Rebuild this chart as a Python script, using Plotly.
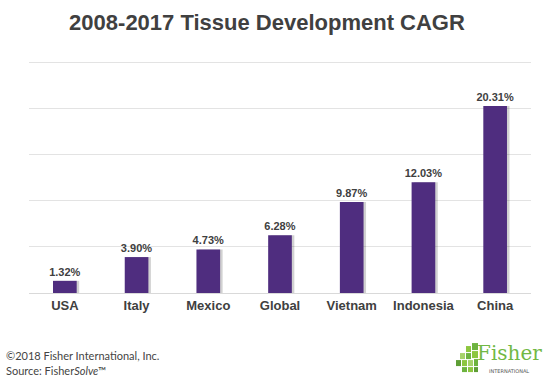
import plotly.graph_objects as go

categories = ["USA", "Italy", "Mexico", "Global", "Vietnam", "Indonesia", "China"]
cagr = [1.32, 3.90, 4.73, 6.28, 9.87, 12.03, 20.31]

title_text = "2008-2017 Tissue Development CAGR"
footer_line1 = "©2018 Fisher International, Inc."
footer_line2 = "Source: Fisher<i>Solve</i>™"

PURPLE = "#4F2D7F"
DARK = "#404040"
W = 0.33
YMAX = 25.3
TOP = 293 - 230 * YMAX / 25  # pixel top of plot area
PH = 293 - TOP

fig = go.Figure()
# soft shadow
fig.add_trace(go.Bar(
    x=categories, y=cagr, width=W, offset=-W / 2 + 0.035,
    marker=dict(color="rgba(0,0,0,0.18)", line=dict(width=0)),
    hoverinfo="skip", showlegend=False,
))
fig.add_trace(go.Bar(
    x=categories, y=cagr, width=W, offset=-W / 2,
    marker=dict(color=PURPLE, line=dict(width=0)),
    text=[f"<b>{v:.2f}%</b>" for v in cagr], textposition="outside",
    constraintext="none",
    textfont=dict(family="Liberation Sans, Arial", size=11, color=DARK),
    cliponaxis=False, showlegend=False,
))

fig.update_layout(
    width=550, height=381,
    margin=dict(l=29, r=19, t=TOP, b=88),
    paper_bgcolor="white", plot_bgcolor="white",
    barmode="overlay",
    title=dict(text=f"<b>{title_text}</b>", x=267 / 550, xanchor="center", y=1 - 22 / 381, yanchor="middle",
               font=dict(family="Liberation Sans, Arial", size=22, color=DARK)),
    xaxis=dict(showgrid=False, showline=False, zeroline=False, ticks="",
               tickfont=dict(family="Liberation Sans, Arial", size=13, color=DARK),
               ticklabelstandoff=3, tickprefix="<b>", ticksuffix="</b>"),
    yaxis=dict(range=[0, YMAX], dtick=5, showgrid=True, gridcolor="#e3e3e3", gridwidth=1,
               zeroline=True, zerolinecolor="#d9d9d9", zerolinewidth=1,
               showticklabels=False, ticks=""),
    font=dict(family="Liberation Sans, Arial"),
)

def py(yp):
    return (293 - yp) / PH

fig.add_annotation(text=footer_line1, xref="paper", yref="paper", x=-0.05, y=py(355),
                   xanchor="left", yanchor="middle", showarrow=False,
                   font=dict(family="Lato, Open Sans", size=11, color="#444444"))
fig.add_annotation(text=footer_line2, xref="paper", yref="paper", x=-0.05, y=py(370),
                   xanchor="left", yanchor="middle", showarrow=False,
                   font=dict(family="Lato, Open Sans", size=11, color="#444444"))

# Logo: green squares + Fisher wordmark
greens = ["#8DC63F", "#6DB33F", "#A6D26A", "#5E9E35"]
squares = [
    (466, 346, 471, 352, 0), (472, 343, 478, 350, 1),
    (460, 353, 465, 359, 2), (466, 353, 471, 359, 1), (472, 351, 478, 358, 0),
    (456, 360, 461, 366, 3), (462, 360, 467, 366, 0), (468, 360, 473, 366, 2), (474, 359, 478, 366, 1),
    (462, 367, 467, 372, 1), (468, 367, 473, 372, 0), (474, 367, 478, 372, 3),
]
for x0, y0, x1, y1, c in squares:
    fig.add_shape(type="rect", xref="paper", yref="paper",
                  x0=(x0 - 29) / 502, x1=(x1 - 29) / 502,
                  y0=py(y1), y1=py(y0),
                  fillcolor=greens[c], line=dict(width=0))
fig.add_annotation(text="Fisher", xref="paper", yref="paper",
                   x=(509 - 29) / 502, y=py(353), xanchor="center", yanchor="middle",
                   showarrow=False, font=dict(family="DejaVu Serif", size=20, color="#72B844"))
fig.add_annotation(text="INTERNATIONAL", xref="paper", yref="paper",
                   x=(509 - 29) / 502, y=py(371), xanchor="center", yanchor="middle",
                   showarrow=False, font=dict(family="DejaVu Sans", size=5, color="#555555"))

fig.write_html("out.html", config={"displayModeBar": False},
               post_script="document.body.style.margin='0';")
